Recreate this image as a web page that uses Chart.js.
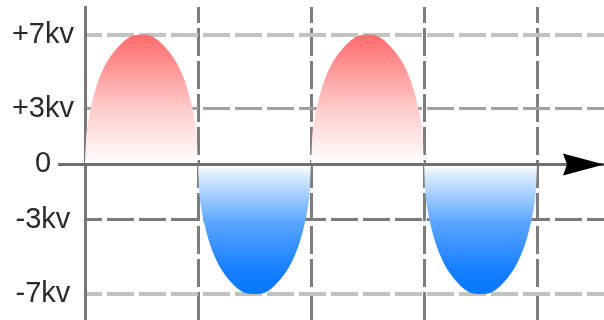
<!DOCTYPE html>
<html>
<head>
<meta charset="utf-8">
<script src="https://cdn.jsdelivr.net/npm/chart.js@4/dist/chart.umd.min.js"></script>
<style>
  html, body { margin: 0; padding: 0; background: #ffffff; }
  #wrap { width: 604px; height: 320px; }
</style>
</head>
<body>
<div id="wrap"><canvas id="c" width="604" height="320"></canvas></div>
<script>
// time axis in grid cells (each dashed vertical gridline = 1 unit)
const time = [
  0, 0.01, 0.03, 0.06, 0.1, 0.15, 0.2, 0.3, 0.4, 0.5, 0.6, 0.7, 0.8, 0.85, 0.9, 0.94, 0.97, 0.99,
  1, 1.01, 1.03, 1.06, 1.1, 1.15, 1.2, 1.3, 1.4, 1.5, 1.6, 1.7, 1.8, 1.85, 1.9, 1.94, 1.97, 1.99,
  2, 2.01, 2.03, 2.06, 2.1, 2.15, 2.2, 2.3, 2.4, 2.5, 2.6, 2.7, 2.8, 2.85, 2.9, 2.94, 2.97, 2.99,
  3, 3.01, 3.03, 3.06, 3.1, 3.15, 3.2, 3.3, 3.4, 3.5, 3.6, 3.7, 3.8, 3.85, 3.9, 3.94, 3.97, 3.99,
  4
];
// voltage in kV
const voltage = [
  0, 1.4, 2.4, 3.3, 4.2, 5.0, 5.6, 6.4, 6.9, 7, 6.9, 6.4, 5.6, 5.0, 4.2, 3.3, 2.4, 1.4,
  0, -1.4, -2.4, -3.3, -4.2, -5.0, -5.6, -6.4, -6.9, -7, -6.9, -6.4, -5.6, -5.0, -4.2, -3.3, -2.4, -1.4,
  0, 1.4, 2.4, 3.3, 4.2, 5.0, 5.6, 6.4, 6.9, 7, 6.9, 6.4, 5.6, 5.0, 4.2, 3.3, 2.4, 1.4,
  0, -1.4, -2.4, -3.3, -4.2, -5.0, -5.6, -6.4, -6.9, -7, -6.9, -6.4, -5.6, -5.0, -4.2, -3.3, -2.4, -1.4,
  0
];
const yTickValues = [-7, -3, 0, 3, 7];
const yTickLabels = ['-7kv', '-3kv', '0', '+3kv', '+7kv'];
const xGridValues = [0, 1, 2, 3, 4];

const positivePart = time.map((t, i) => ({ x: t, y: Math.max(voltage[i], 0) }));
const negativePart = time.map((t, i) => ({ x: t, y: Math.min(voltage[i], 0) }));

function makeGradient(ctx, stops, toValue) {
  const chart = ctx.chart;
  if (!chart.chartArea) return 'rgba(0,0,0,0)';
  const ys = chart.scales.y;
  const y0 = ys.getPixelForValue(0);
  const y1 = ys.getPixelForValue(toValue);
  const g = chart.ctx.createLinearGradient(0, y0, 0, y1);
  stops.forEach(s => g.addColorStop(s[0], s[1]));
  return g;
}
const redStops = [[0, 'rgba(255,255,255,1)'], [0.15, 'rgb(255,238,238)'], [0.45, 'rgb(255,200,200)'], [0.8, 'rgb(255,140,140)'], [1, 'rgb(255,108,108)']];
const blueStops = [[0, 'rgba(255,255,255,1)'], [0.12, 'rgb(205,228,255)'], [0.45, 'rgb(90,165,255)'], [0.8, 'rgb(25,128,255)'], [1, 'rgb(5,120,255)']];

const decor = {
  id: 'decor',
  afterDraw(chart) {
    const { ctx, chartArea, scales } = chart;
    const y0 = scales.y.getPixelForValue(0);
    ctx.save();
    ctx.strokeStyle = '#707070';
    ctx.lineWidth = 3;
    ctx.beginPath();
    ctx.moveTo(chartArea.left - 27, y0);
    ctx.lineTo(chartArea.right - 30, y0);
    ctx.stroke();
    // arrow head
    const tip = chartArea.right;
    ctx.fillStyle = '#000000';
    ctx.beginPath();
    ctx.moveTo(tip - 41, y0 - 11);
    ctx.lineTo(tip, y0);
    ctx.lineTo(tip - 41, y0 + 11);
    ctx.lineTo(tip - 37, y0);
    ctx.closePath();
    ctx.fill();
    ctx.restore();
  }
};

function hColor(v) {
  if (v === 7 || v === -7) return '#c2c2c2';
  if (v === 3) return '#a0a0a0';
  if (v === -3) return '#7a7a7a';
  return '#707070';
}
function hWidth(v) {
  if (v === 7 || v === -7) return 4;
  return 3;
}

new Chart(document.getElementById('c'), {
  type: 'line',
  data: {
    datasets: [
      {
        data: positivePart,
        borderWidth: 0,
        pointRadius: 0,
        cubicInterpolationMode: 'monotone',
        fill: 'origin',
        backgroundColor: (ctx) => makeGradient(ctx, redStops, 7)
      },
      {
        data: negativePart,
        borderWidth: 0,
        pointRadius: 0,
        cubicInterpolationMode: 'monotone',
        fill: 'origin',
        backgroundColor: (ctx) => makeGradient(ctx, blueStops, -7)
      }
    ]
  },
  options: {
    responsive: false,
    animation: false,
    events: [],
    layout: { padding: { top: 7, left: 0, right: 0, bottom: 0 } },
    plugins: { legend: { display: false }, tooltip: { enabled: false } },
    scales: {
      x: {
        type: 'linear',
        min: 0,
        max: 519 / 113,
        z: 1,
        afterBuildTicks: (s) => { s.ticks = xGridValues.map(v => ({ value: v })); },
        afterFit: (s) => { s.height = 0; s.paddingLeft = 0; s.paddingRight = 0; },
        ticks: { display: false },
        grid: { color: '#7d7d7d', lineWidth: 3, drawTicks: false },
        border: { display: false, dash: [28, 5], dashOffset: 12 }
      },
      y: {
        type: 'linear',
        min: -8.4,
        max: 8.5,
        z: 1,
        afterBuildTicks: (s) => { s.ticks = yTickValues.map(v => ({ value: v })); },
        afterFit: (s) => { s.width = 85; s.paddingTop = 0; s.paddingBottom = 0; },
        ticks: {
          padding: 11,
          crossAlign: 'center',
          color: '#2a2a2a',
          font: { family: '"Liberation Sans", Arial, sans-serif', size: 29 },
          callback: (v) => yTickLabels[yTickValues.indexOf(v)]
        },
        grid: {
          drawTicks: false,
          color: (c) => c.tick ? hColor(c.tick.value) : '#777777',
          lineWidth: (c) => c.tick ? hWidth(c.tick.value) : 3
        },
        border: {
          display: true,
          color: '#777777',
          width: 3,
          dash: (c) => (c.tick && c.tick.value === 0) ? [] : [27, 5],
          dashOffset: 12
        }
      }
    }
  },
  plugins: [decor]
});
</script>
</body>
</html>
